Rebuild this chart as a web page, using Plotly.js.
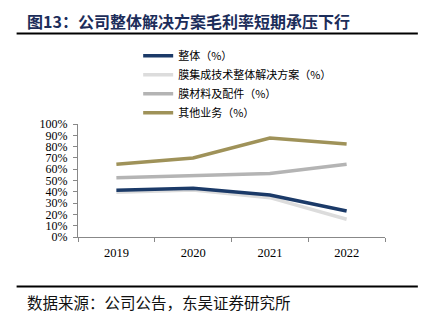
<!DOCTYPE html>
<html><head><meta charset="utf-8">
<script src="https://cdn.plot.ly/plotly-3.0.1.min.js"></script>
<style>html,body{margin:0;padding:0;background:#fff;}#chart{width:428px;height:322px;}</style>
</head><body><div id="chart"></div>
<script>
const years = ['2019', '2020', '2021', '2022'];
const overall = [41.3, 43.1, 37.2, 23.0];
const solution = [39.6, 41.6, 34.8, 15.7];
const materials = [52.5, 54.6, 56.1, 64.3];
const others = [64.3, 69.9, 87.6, 82.3];
const seriesNames = ['整体（%）', '膜集成技术整体解决方案（%）', '膜材料及配件（%）', '其他业务（%）'];
const titleText = '<b>图13：公司整体解决方案毛利率短期承压下行</b>';
const sourceText = '数据来源：公司公告，东吴证券研究所';

const FONT = 'Liberation Serif, "Noto Sans CJK SC", serif';
const LW = 3.5;
function tr(y, name, color, rank) {
  return {x: years, y: y, name: name, type: 'scatter', mode: 'lines',
    line: {color: color, width: LW}, legendrank: rank};
}
const data = [
  tr(solution, seriesNames[1], '#dcdcdc', 2),
  tr(materials, seriesNames[2], '#b4b4b4', 3),
  tr(others, seriesNames[3], '#9f9259', 4),
  tr(overall, seriesNames[0], '#1b3a68', 1)
];
const layout = {
  width: 428, height: 322,
  margin: {l: 78, r: 43, t: 124, b: 85},
  paper_bgcolor: '#fff', plot_bgcolor: '#fff',
  font: {family: FONT, color: '#000', size: 12},
  showlegend: true,
  legend: {x: 0.196, xanchor: 'left', y: 1.352, yanchor: 'middle',
    font: {size: 11, family: '"Noto Sans CJK SC", sans-serif'}, bgcolor: 'rgba(0,0,0,0)', traceorder: 'normal'},
  xaxis: {type: 'category', range: [-0.5, 3.5], tickson: 'boundaries', ticks: 'outside', ticklen: 4,
    tickcolor: '#888', showline: true, linecolor: '#888', linewidth: 1, showgrid: false, zeroline: false,
    ticklabelstandoff: 4,
    tickfont: {size: 12.5, family: FONT}, fixedrange: true},
  yaxis: {range: [0, 100], dtick: 10, ticksuffix: '%', ticks: 'outside', ticklen: 4, tickcolor: '#888',
    showline: true, linecolor: '#888', linewidth: 1, showgrid: false, zeroline: false,
    ticklabelstandoff: 3,
    tickfont: {size: 12, family: FONT}, fixedrange: true},
  annotations: [
    {text: titleText, xref: 'paper', yref: 'paper', x: -0.173, y: 1.91, xanchor: 'left', yanchor: 'middle',
     showarrow: false, font: {size: 16, color: '#1c2d5a', family: '"Noto Sans CJK SC", sans-serif'}},
    {text: sourceText, xref: 'paper', yref: 'paper', x: -0.173, y: -0.575, xanchor: 'left', yanchor: 'middle',
     showarrow: false, font: {size: 15.5, color: '#111', family: '"Noto Sans CJK SC", sans-serif'}}
  ],
  shapes: [
    {type: 'line', xref: 'paper', yref: 'paper', x0: -0.2, x1: 1.107, y0: 1.8, y1: 1.8, line: {color: '#000', width: 2}},
    {type: 'line', xref: 'paper', yref: 'paper', x0: -0.2, x1: 1.107, y0: -0.437, y1: -0.437, line: {color: '#000', width: 2}}
  ]
};
Plotly.newPlot('chart', data, layout, {displayModeBar: false, staticPlot: true});
</script></body></html>
